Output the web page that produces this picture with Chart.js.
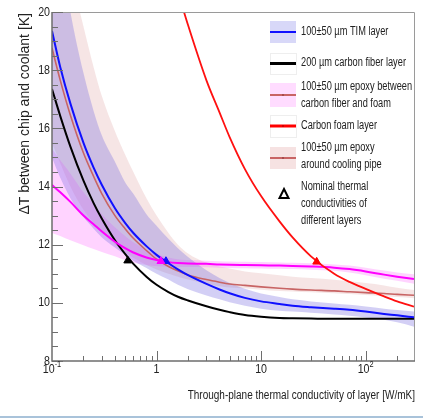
<!DOCTYPE html>
<html>
<head>
<meta charset="utf-8">
<script src="https://cdn.jsdelivr.net/npm/chart.js@4.4.1/dist/chart.umd.min.js"></script>
<style>
  html, body { margin: 0; padding: 0; background: #fff; }
  #wrap { position: relative; width: 423px; height: 419px; }
</style>
</head>
<body>
<div id="wrap"><canvas id="grafico" width="423" height="419"></canvas></div>
<script>
// conductividad de la capa [W/mK]
const kValues = [0.1, 0.12, 0.15, 0.2, 0.25, 0.3, 0.4, 0.5, 0.6, 0.8, 1, 1.3, 1.6, 2, 3, 4, 5, 7, 10, 15, 20, 30, 50, 70, 100, 150, 200, 290];

// 100±50 um TIM
const timLayer = [19.35, 18.1, 16.85, 15.5, 14.65, 14.05, 13.25, 12.75, 12.4, 11.95, 11.65, 11.36, 11.15, 10.95, 10.65, 10.46, 10.33, 10.17, 10.05, 9.96, 9.9, 9.85, 9.8, 9.76, 9.7, 9.62, 9.57, 9.5];
const timLo = [15.0, 14.3, 13.6, 12.95, 12.55, 12.25, 11.9, 11.65, 11.45, 11.2, 11.0, 10.8, 10.62, 10.47, 10.25, 10.12, 10.02, 9.9, 9.8, 9.73, 9.7, 9.66, 9.6, 9.56, 9.5, 9.42, 9.33, 9.18];
const timHi = [24, 22.2, 20.0, 17.9, 16.6, 15.75, 14.85, 14.15, 13.75, 13.05, 12.65, 12.2, 11.88, 11.58, 11.12, 10.85, 10.68, 10.48, 10.32, 10.2, 10.12, 10.05, 9.98, 9.93, 9.87, 9.8, 9.75, 9.7];

// 200 um fibra de carbono
const carbonFiber = [17.35, 16.42, 15.37, 14.2, 13.43, 12.89, 12.15, 11.68, 11.34, 10.9, 10.62, 10.37, 10.21, 10.08, 9.88, 9.76, 9.68, 9.58, 9.52, 9.48, 9.47, 9.46, 9.45, 9.45, 9.45, 9.45, 9.45, 9.45];

// epoxy entre fibra y espuma
const epoxyBetween = [14.05, 13.8, 13.47, 13.0, 12.7, 12.45, 12.1, 11.88, 11.73, 11.56, 11.47, 11.4, 11.37, 11.35, 11.34, 11.32, 11.31, 11.3, 11.29, 11.28, 11.27, 11.25, 11.21, 11.16, 11.08, 10.97, 10.9, 10.82];
const epoxyBetweenLo = [12.4, 12.3, 12.15, 11.98, 11.85, 11.75, 11.6, 11.47, 11.38, 11.3, 11.26, 11.24, 11.23, 11.23, 11.22, 11.21, 11.2, 11.19, 11.18, 11.17, 11.16, 11.14, 11.1, 11.04, 10.95, 10.83, 10.76, 10.66];
const epoxyBetweenHi = [15.3, 14.9, 14.45, 13.8, 13.4, 13.05, 12.6, 12.3, 12.08, 11.82, 11.68, 11.56, 11.5, 11.47, 11.45, 11.43, 11.42, 11.41, 11.4, 11.39, 11.38, 11.36, 11.32, 11.28, 11.21, 11.11, 11.04, 10.98];

// epoxy alrededor del tubo
const epoxyPipe = [18.76, 17.65, 16.45, 15.15, 14.35, 13.75, 13.0, 12.55, 12.22, 11.8, 11.5, 11.25, 11.1, 10.96, 10.8, 10.71, 10.65, 10.6, 10.55, 10.5, 10.47, 10.44, 10.41, 10.38, 10.35, 10.32, 10.29, 10.26];
const epoxyPipeLo = [15.5, 14.8, 14.0, 13.2, 12.75, 12.45, 12.0, 11.75, 11.55, 11.3, 11.15, 11.0, 10.9, 10.8, 10.65, 10.57, 10.53, 10.5, 10.45, 10.41, 10.39, 10.36, 10.33, 10.3, 10.27, 10.23, 10.2, 10.16];
const epoxyPipeHi = [25, 23.3, 21.4, 19.5, 18.1, 17.1, 15.9, 15.1, 14.5, 13.6, 13.0, 12.4, 12.0, 11.7, 11.38, 11.25, 11.18, 11.08, 11.02, 10.95, 10.9, 10.85, 10.79, 10.74, 10.68, 10.6, 10.52, 10.44];

// espuma de carbono
const foamK = [1.6, 2, 3, 4, 5, 7, 10, 15, 20, 30, 50, 70, 100, 150, 200, 290];
const carbonFoam = [20.7, 19.55, 17.65, 16.55, 15.7, 14.6, 13.67, 12.8, 12.25, 11.6, 11.0, 10.72, 10.48, 10.22, 10.05, 9.87];

// conductividades nominales
const nominalK = [0.53, 1.1, 1.23, 34];
const nominalT = [11.45, 11.43, 11.43, 11.41];
const nominalColors = ["#000000", "#ff00ff", "#1010ff", "#ff0000"];

const yTicks = [8, 10, 12, 14, 16, 18, 20];
const xTicks = [0.1, 1, 10, 100];
const xTickLabels = [["10", "-1"], ["1", ""], ["10", ""], ["10", "2"]];

const pts = (ks, ys) => ks.map((k, i) => ({ x: k, y: ys[i] }));

function linea(data, color, width) {
  return {
    data: data,
    borderColor: color,
    borderWidth: width,
    pointRadius: 0,
    fill: false,
    cubicInterpolationMode: "monotone",
  };
}

function banda(data, color, fill) {
  return {
    data: data,
    borderWidth: 0,
    borderColor: "rgba(0,0,0,0)",
    backgroundColor: color,
    pointRadius: 0,
    fill: fill,
    cubicInterpolationMode: "monotone",
  };
}

const triangulos = nominalK.map((k, i) => ({
  data: [{ x: k, y: nominalT[i] }],
  showLine: false,
  pointStyle: "triangle",
  pointRadius: 4.5,
  backgroundColor: nominalColors[i],
  borderColor: nominalColors[i],
  borderWidth: 1,
}));

function texto(ctx, s, x, y, align, size, sx) {
  ctx.save();
  ctx.translate(x, y);
  ctx.scale(sx, 1);
  ctx.font = size + 'px "Liberation Sans", Arial, sans-serif';
  ctx.textAlign = align;
  ctx.textBaseline = "middle";
  ctx.fillText(s, 0, 0);
  ctx.restore();
}

const ejes = {
  id: "ejes",
  afterDraw(chart) {
    const { ctx, chartArea: a, scales } = chart;
    const x = scales.x, y = scales.y;
    ctx.save();

    // marco
    ctx.strokeStyle = "#9a9a9a";
    ctx.lineWidth = 1;
    ctx.beginPath();
    ctx.moveTo(a.left, a.top + 0.5);
    ctx.lineTo(a.right + 0.5, a.top + 0.5);
    ctx.lineTo(a.right + 0.5, a.bottom);
    ctx.stroke();

    ctx.strokeStyle = "#6e6e6e";
    ctx.lineWidth = 1.5;
    ctx.beginPath();
    ctx.moveTo(a.left, a.top);
    ctx.lineTo(a.left, a.bottom);
    ctx.lineTo(a.right + 1, a.bottom);
    ctx.stroke();

    // ticks eje y
    ctx.lineWidth = 1;
    ctx.beginPath();
    for (let v = 8; v <= 20; v += 0.5) {
      const py = Math.round(y.getPixelForValue(v)) + 0.5;
      const len = v % 2 === 0 ? 11 : 6;
      ctx.moveTo(a.left, py);
      ctx.lineTo(a.left + len, py);
    }
    // ticks eje x
    [0.1, 1, 10, 100].forEach((d) => {
      for (let m = 1; m <= 9; m++) {
        const v = m * d;
        if (v > 290 || v === 0.1) continue;
        const px = Math.round(x.getPixelForValue(v)) + 0.5;
        const len = m === 1 ? 10 : 5;
        ctx.moveTo(px, a.bottom);
        ctx.lineTo(px, a.bottom - len);
      }
    });
    ctx.stroke();

    // etiquetas
    ctx.fillStyle = "#222";
    yTicks.forEach((v) => {
      texto(ctx, String(v), a.left - 2, y.getPixelForValue(v), "right", 13, 0.82);
    });
    xTicks.forEach((v, i) => {
      const px = x.getPixelForValue(v);
      const base = xTickLabels[i][0], exp = xTickLabels[i][1];
      ctx.font = '13px "Liberation Sans", Arial, sans-serif';
      const wb = ctx.measureText(base).width * 0.82;
      ctx.font = '9px "Liberation Sans", Arial, sans-serif';
      const we = exp ? ctx.measureText(exp).width * 0.82 : 0;
      const x0 = px - (wb + we) / 2;
      texto(ctx, base, x0, a.bottom + 8, "left", 13, 0.82);
      if (exp) texto(ctx, exp, x0 + wb, a.bottom + 4, "left", 9, 0.82);
    });

    // titulos
    texto(ctx, "Through-plane thermal conductivity of layer [W/mK]", a.right + 1, a.bottom + 35, "right", 12.5, 0.8);
    ctx.save();
    ctx.translate(25, a.top + 1);
    ctx.rotate(-Math.PI / 2);
    ctx.font = '14px "Liberation Sans", Arial, sans-serif';
    ctx.textAlign = "right";
    ctx.textBaseline = "middle";
    ctx.fillText("\u0394T between chip and coolant [K]", 0, 0);
    ctx.restore();

    // leyenda
    const lx = 270, lw = 26, tx = 301;
    const entradas = [
      { y0: 21, y1: 43, fill: "#d8d8f8", line: "#1010ff", lw: 2, dot: false },
      { y0: 53, y1: 74, fill: null, line: "#000000", lw: 3, dot: false },
      { y0: 83, y1: 107, fill: "#ffdcff", line: "#c86464", lw: 2, dot: true },
      { y0: 115, y1: 137, fill: null, line: "#ff0000", lw: 3, dot: true },
      { y0: 147, y1: 169, fill: "#f6e2e2", line: "#c86464", lw: 2, dot: true },
    ];
    entradas.forEach((e) => {
      if (e.fill) {
        ctx.fillStyle = e.fill;
        ctx.fillRect(lx, e.y0, lw, e.y1 - e.y0);
      } else {
        ctx.strokeStyle = "#eeeeee";
        ctx.lineWidth = 1;
        ctx.strokeRect(lx + 0.5, e.y0 + 0.5, lw, e.y1 - e.y0);
      }
      const cy = (e.y0 + e.y1) / 2;
      ctx.strokeStyle = e.line;
      ctx.lineWidth = e.lw;
      ctx.beginPath();
      ctx.moveTo(lx, cy);
      ctx.lineTo(lx + lw, cy);
      ctx.stroke();
      if (e.dot) {
        ctx.fillStyle = "#400";
        ctx.fillRect(lx + lw / 2 - 0.5, cy - 0.5, 1, 1);
      }
    });
    // triangulo leyenda
    ctx.strokeStyle = "#000";
    ctx.lineWidth = 2;
    ctx.beginPath();
    ctx.moveTo(284, 189);
    ctx.lineTo(288.5, 198);
    ctx.lineTo(279.5, 198);
    ctx.closePath();
    ctx.stroke();

    ctx.fillStyle = "#222";
    const textos = [
      ["100\u00b150 \u00b5m TIM layer", 32],
      ["200 \u00b5m carbon fiber layer", 63],
      ["100\u00b150 \u00b5m epoxy between", 87],
      ["carbon fiber and foam", 104],
      ["Carbon foam layer", 126],
      ["100\u00b150 \u00b5m epoxy", 148],
      ["around cooling pipe", 165],
      ["Nominal thermal", 187],
      ["conductivities of", 204],
      ["different layers", 221],
    ];
    textos.forEach((t) => texto(ctx, t[0], tx, t[1], "left", 12, 0.77));

    // linea inferior
    ctx.fillStyle = "#a9c3da";
    ctx.fillRect(0, 416, 423, 2);
    ctx.restore();
  },
};

const ctx = document.getElementById("grafico").getContext("2d");

new Chart(ctx, {
  type: "line",
  data: {
    datasets: [
      ...triangulos,
      linea(pts(foamK, carbonFoam), "#ff1010", 1.8),
      linea(pts(kValues, timLayer), "#1010ff", 2),
      linea(pts(kValues, epoxyBetween), "#ff00ff", 2),
      linea(pts(kValues, carbonFiber), "#000000", 2),
      linea(pts(kValues, epoxyPipe), "#c86464", 1.6),
      banda(pts(kValues, timLo), "rgba(0,0,0,0)", false),
      banda(pts(kValues, timHi), "rgba(120,110,225,0.33)", "-1"),
      banda(pts(kValues, epoxyBetweenLo), "rgba(0,0,0,0)", false),
      banda(pts(kValues, epoxyBetweenHi), "rgba(255,110,255,0.3)", "-1"),
      banda(pts(kValues, epoxyPipeLo), "rgba(0,0,0,0)", false),
      banda(pts(kValues, epoxyPipeHi), "rgba(220,150,150,0.25)", "-1"),
    ],
  },
  options: {
    responsive: false,
    devicePixelRatio: 1,
    animation: false,
    layout: { padding: { left: 52, top: 12, right: 9, bottom: 58 } },
    plugins: {
      legend: { display: false },
      tooltip: { enabled: false },
      filler: { drawTime: "beforeDatasetsDraw" },
    },
    scales: {
      x: {
        type: "logarithmic",
        min: 0.1,
        max: 290,
        ticks: { display: false },
        grid: { display: false, drawTicks: false, tickLength: 0 },
        border: { display: false },
      },
      y: {
        type: "linear",
        min: 8,
        max: 20,
        ticks: { display: false },
        grid: { display: false, drawTicks: false, tickLength: 0 },
        border: { display: false },
      },
    },
  },
  plugins: [ejes],
});
</script>
</body>
</html>
